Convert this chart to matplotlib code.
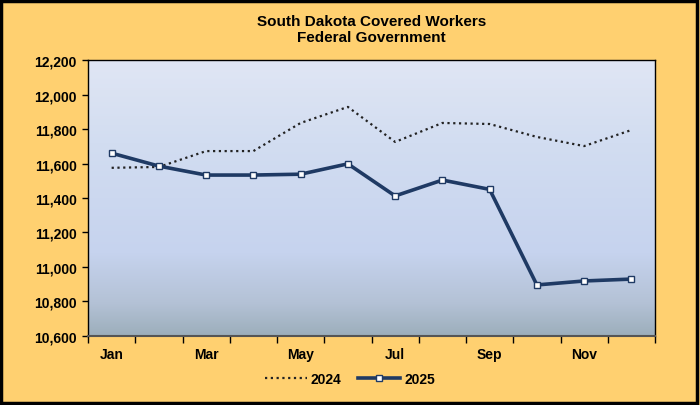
import numpy as np
import matplotlib.pyplot as plt
from matplotlib.colors import LinearSegmentedColormap
from matplotlib.patches import Rectangle
from matplotlib.ticker import FuncFormatter

plt.rcParams['font.family'] = ['Liberation Sans', 'DejaVu Sans']
plt.rcParams['font.weight'] = 'bold'

months = ['Jan', 'Feb', 'Mar', 'Apr', 'May', 'Jun',
          'Jul', 'Aug', 'Sep', 'Oct', 'Nov', 'Dec']
workers_2024 = [11575, 11580, 11672, 11672, 11835, 11928,
                11725, 11835, 11829, 11754, 11701, 11794]
workers_2025 = [11660, 11585, 11533, 11533, 11538, 11598,
                11412, 11504, 11450, 10896, 10919, 10930]

fig = plt.figure(figsize=(7, 4.06), dpi=100)
fig.patch.set_facecolor('#FFD070')
fig.patches.append(Rectangle((0.002, 0.004), 0.994, 0.992, transform=fig.transFigure,
                             fill=False, edgecolor='black', linewidth=2.5))

ax = fig.add_axes([88 / 700, 1 - 337 / 406, (655 - 88) / 700, (337 - 61) / 406])

# gradient background for the plot area
grad = LinearSegmentedColormap.from_list('bg', [(0, '#9CAEBB'), (0.12, '#B4C2D6'),
                                                (0.3, '#C6D3EE'), (0.7, '#D2DDF1'),
                                                (1, '#E0E6F4')])
ax.imshow(np.linspace(0, 1, 256).reshape(-1, 1), cmap=grad, aspect='auto',
          extent=[0, 1, 0, 1], transform=ax.transAxes, origin='lower', zorder=0)

x = np.arange(len(months))
ax.plot(x, workers_2024, color='#222222', linestyle=(0, (1, 1.6)), linewidth=1.6,
        label='2024', zorder=3)
ax.plot(x, workers_2025, color='#1F3A64', linewidth=2.6, marker='s', markersize=4.5,
        markerfacecolor='white', markeredgecolor='#1F3A64', markeredgewidth=1,
        label='2025', zorder=4)

ax.set_xlim(-0.5, 11.5)
ax.set_ylim(10600, 12200)
ax.set_yticks(np.arange(10600, 12201, 200))
ax.yaxis.set_major_formatter(FuncFormatter(lambda v, p: f'{int(v):,}'))
ax.set_xticks(np.arange(-0.5, 12, 1))
ax.set_xticklabels([])
ax.set_xticks(x[::2], minor=True)
ax.set_xticklabels(months[::2], minor=True)
ax.tick_params(axis='x', which='minor', length=0, pad=8, labelsize=10)
ax.tick_params(axis='x', which='major', length=5, direction='out', width=1)
ax.tick_params(axis='y', length=4, direction='out', width=1, labelsize=10, pad=4)

for s in ['top', 'right', 'left']:
    ax.spines[s].set_color('black')
    ax.spines[s].set_linewidth(1)
ax.spines['bottom'].set_color('#555555')
ax.spines['bottom'].set_linewidth(1.5)

ax.set_title('South Dakota Covered Workers\nFederal Government', fontsize=11,
             fontweight='bold', pad=14, linespacing=1.15)

fig.legend(loc='center', bbox_to_anchor=(0.5, 1 - 380 / 406), ncol=2,
           frameon=False, fontsize=10, handlelength=3, columnspacing=1.2,
           handletextpad=0.3)

fig.savefig('out.png', dpi=100, facecolor=fig.get_facecolor())
